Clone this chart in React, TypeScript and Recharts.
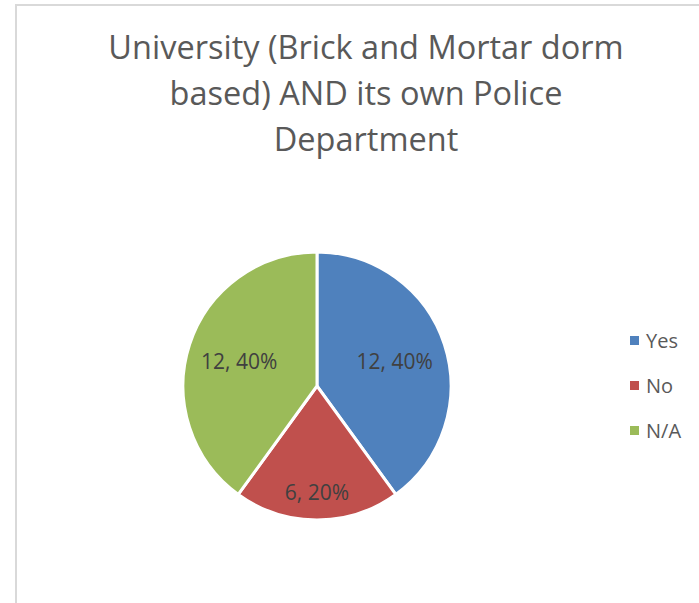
import React from "react";
import { PieChart, Pie, Cell, Legend } from "recharts";

const categories = ["Yes", "No", "N/A"];
const counts = [12, 6, 12];
const colors = ["#4F81BD", "#C0504D", "#9BBB59"];
const titleLines = ["University (Brick and Mortar dorm", "based) AND its own Police", "Department"];

const labelRadiusRatio = [0.61, 0.79, 0.61];
const FONT = "'Open Sans', 'Noto Sans', sans-serif";

const data = categories.map((name, i) => ({ name, value: counts[i] }));

const RADIAN = Math.PI / 180;

const renderLabel = (props: any) => {
  const { cx, cy, midAngle, outerRadius, index, value, percent } = props;
  const r = outerRadius * labelRadiusRatio[index];
  const x = cx + r * Math.cos(-midAngle * RADIAN);
  const y = cy + r * Math.sin(-midAngle * RADIAN);
  return (
    <text
      x={x}
      y={y}
      fill="#404040"
      fontSize={21}
      fontFamily={FONT}
      textAnchor="middle"
      dominantBaseline="central"
    >
      {`${value}, ${Math.round(percent * 100)}%`}
    </text>
  );
};

const renderLegend = () => {
  return (
    <div style={{ fontFamily: FONT }}>
      {categories.map((name, i) => (
        <div
          key={name}
          style={{ display: "flex", alignItems: "center", height: 45 }}
        >
          <span
            style={{
              display: "inline-block",
              width: 9,
              height: 9,
              background: colors[i],
              marginRight: 7,
            }}
          />
          <span style={{ fontSize: 20, color: "#595959" }}>{name}</span>
        </div>
      ))}
    </div>
  );
};

export default function App() {
  return (
    <div
      style={{
        position: "absolute",
        left: 0,
        top: 0,
        width: 699,
        height: 603,
        overflow: "hidden",
        background: "#ffffff",
      }}
    >
      <div
        style={{
          position: "absolute",
          left: 15,
          top: 4,
          width: 760,
          height: 700,
          borderTop: "2px solid #D9D9D9",
          borderLeft: "2px solid #D9D9D9",
        }}
      />
      <div
        style={{
          position: "absolute",
          left: 66,
          top: 24,
          width: 600,
          textAlign: "center",
          fontFamily: FONT,
          fontSize: 32.5,
          lineHeight: "46px",
          color: "#595959",
        }}
      >
        {titleLines.map((t, i) => (
          <div key={i}>{t}</div>
        ))}
      </div>
      <div style={{ position: "absolute", left: 0, top: 0 }}>
        <PieChart width={699} height={603} margin={{ top: 0, right: 0, bottom: 0, left: 0 }}>
          <Pie
            data={data}
            dataKey="value"
            nameKey="name"
            cx={317}
            cy={386}
            outerRadius={134}
            startAngle={90}
            endAngle={-270}
            stroke="#ffffff"
            strokeWidth={3}
            label={renderLabel}
            labelLine={false}
            isAnimationActive={false}
          >
            {data.map((d, i) => (
              <Cell key={d.name} fill={colors[i]} />
            ))}
          </Pie>
          <Legend
            layout="vertical"
            align="right"
            verticalAlign="middle"
            content={renderLegend}
            wrapperStyle={{ position: "absolute", left: 630, top: 318, width: 69 }}
          />
        </PieChart>
      </div>
    </div>
  );
}
